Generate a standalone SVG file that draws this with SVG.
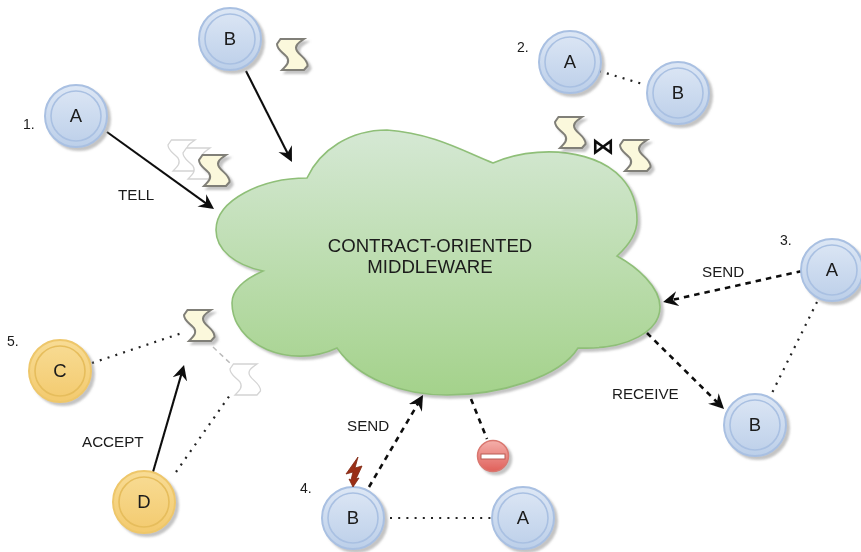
<svg xmlns="http://www.w3.org/2000/svg" width="861" height="552" viewBox="0 0 861 552">
<style>
text{font-family:"Liberation Sans",Arial,sans-serif;fill:#1a1a1a}
.lab{font-size:15.2px}
.num{font-size:14px}
.let{font-size:18.5px;text-anchor:middle}
.mid{font-size:18.6px;text-anchor:middle}
.out{fill:url(#blue);stroke:#a9c0e2;stroke-width:2}
.inn{fill:none;stroke:#a9c0e2;stroke-width:1.6}
.y .out{fill:url(#yel);stroke:#eec76b}
.y .inn{stroke:#e6bd5c}
.doc{fill:#fbf8dc;stroke:#807f78;stroke-width:2}
.ghost{fill:#fff;stroke:#d4d4d4;stroke-width:1.3}
#connectors line{fill:none;stroke:#111}
.solid{stroke-width:2.1}
.dash{stroke-width:2.6;stroke-dasharray:5.5 5}
#connectors .dot{stroke-width:2.2;stroke-dasharray:2 6.2;stroke:#222}
#connectors .gdash{stroke:#bbb;stroke-width:1.5;stroke-dasharray:5 4}
</style>
<defs>
<linearGradient id="blue" x1="0" y1="0" x2="0" y2="1"><stop offset="0" stop-color="#dde7f5"/><stop offset="1" stop-color="#bccfe9"/></linearGradient>
<linearGradient id="yel" x1="0" y1="0" x2="0" y2="1"><stop offset="0" stop-color="#f8dc95"/><stop offset="1" stop-color="#f3ca6e"/></linearGradient>
<linearGradient id="gr" x1="0" y1="0" x2="0" y2="1"><stop offset="0" stop-color="#d5e8d4"/><stop offset="1" stop-color="#a4d28b"/></linearGradient>
<linearGradient id="red" x1="0" y1="0" x2="0" y2="1"><stop offset="0" stop-color="#f4b0ab"/><stop offset="1" stop-color="#e0605a"/></linearGradient>
<filter id="sh" x="-15%" y="-15%" width="135%" height="135%"><feDropShadow dx="3" dy="3" stdDeviation="1" flood-color="#888" flood-opacity=".5"/></filter>
<filter id="soft" filterUnits="userSpaceOnUse" x="0" y="0" width="861" height="552"><feGaussianBlur stdDeviation="0.45"/></filter>
<marker id="ah" markerUnits="userSpaceOnUse" markerWidth="18" markerHeight="18" refX="12" refY="8" orient="auto"><path d="M15 8L0 0.5L5 8L0 15.5Z" fill="#111"/></marker>
<path id="tape" d="M3.5 1L27 1C21 5 17 8 20 13C23 18 31 21 30.5 28L27 32L5 32C10 27 13 24 10 19C6 14 0 12 0 6Z"/>
</defs>
<g filter="url(#soft)">
<g id="cloud">
<path d="M307 178C320 150 350 130 387 130C433 133 467 153 493 163C545 140 637 150 637 220C637 234 628 246 617 256C637 267 660 287 660 307C660 330 630 350 578 348C560 377 500 395 447 395C400 395 357 377 337 348C290 370 232 345 232 303C232 290 245 279 263 271C235 265 216 250 216 230C216 200 262 178 307 178Z" fill="url(#gr)" stroke="#8fbf78" stroke-width="1.6" filter="url(#sh)"/>
<text class="mid" x="430" y="252">CONTRACT-ORIENTED</text>
<text class="mid" x="430" y="273">MIDDLEWARE</text>
</g>
<g id="connectors">
<line class="solid" x1="107" y1="132" x2="211.6" y2="207.3" marker-end="url(#ah)"/>
<line class="solid" x1="246" y1="71" x2="290.6" y2="159.3" marker-end="url(#ah)"/>
<line class="dot" x1="599" y1="71" x2="646" y2="85"/>
<line class="dash" x1="802" y1="271" x2="666" y2="301.3" marker-end="url(#ah)"/>
<line class="dash" x1="647" y1="333" x2="721.9" y2="406.9" marker-end="url(#ah)"/>
<line class="dot" x1="817" y1="302" x2="772" y2="393"/>
<line class="dash" x1="369" y1="487" x2="421.5" y2="397.6" marker-end="url(#ah)"/>
<line class="dash" x1="471" y1="399" x2="487" y2="439"/>
<line class="dot" x1="390" y1="518" x2="493" y2="518"/>
<line class="dot" x1="92" y1="363" x2="182" y2="333"/>
<line class="solid" x1="153" y1="472" x2="183.2" y2="367.9" marker-end="url(#ah)"/>
<line class="dot" x1="176" y1="472" x2="230" y2="395"/>
<line class="gdash" x1="213" y1="347" x2="231" y2="364"/>
</g>
<g id="node-a1"><circle class="out" cx="76" cy="116" r="31" filter="url(#sh)"/><circle class="inn" cx="76" cy="116" r="25"/><text class="let" x="76" y="122">A</text></g>
<g id="node-b1"><circle class="out" cx="230" cy="39" r="31" filter="url(#sh)"/><circle class="inn" cx="230" cy="39" r="25"/><text class="let" x="230" y="45">B</text></g>
<g id="node-a2"><circle class="out" cx="570" cy="62" r="31" filter="url(#sh)"/><circle class="inn" cx="570" cy="62" r="25"/><text class="let" x="570" y="68">A</text></g>
<g id="node-b2"><circle class="out" cx="678" cy="93" r="31" filter="url(#sh)"/><circle class="inn" cx="678" cy="93" r="25"/><text class="let" x="678" y="99">B</text></g>
<g id="node-a3"><circle class="out" cx="832" cy="270" r="31" filter="url(#sh)"/><circle class="inn" cx="832" cy="270" r="25"/><text class="let" x="832" y="276">A</text></g>
<g id="node-b3"><circle class="out" cx="755" cy="425" r="31" filter="url(#sh)"/><circle class="inn" cx="755" cy="425" r="25"/><text class="let" x="755" y="431">B</text></g>
<g id="node-b4"><circle class="out" cx="353" cy="518" r="31" filter="url(#sh)"/><circle class="inn" cx="353" cy="518" r="25"/><text class="let" x="353" y="524">B</text></g>
<g id="node-a4"><circle class="out" cx="523" cy="518" r="31" filter="url(#sh)"/><circle class="inn" cx="523" cy="518" r="25"/><text class="let" x="523" y="524">A</text></g>
<g id="node-c" class="y"><circle class="out" cx="60" cy="371" r="31" filter="url(#sh)"/><circle class="inn" cx="60" cy="371" r="25"/><text class="let" x="60" y="377">C</text></g>
<g id="node-d" class="y"><circle class="out" cx="144" cy="502" r="31" filter="url(#sh)"/><circle class="inn" cx="144" cy="502" r="25"/><text class="let" x="144" y="508">D</text></g>
<g id="contracts">
<use href="#tape" class="ghost" x="168" y="139"/>
<use href="#tape" class="ghost" x="183" y="147"/>
<use href="#tape" class="doc" x="199" y="154" filter="url(#sh)"/>
<use href="#tape" class="doc" x="277" y="38" filter="url(#sh)"/>
<use href="#tape" class="doc" x="555" y="116" filter="url(#sh)"/>
<use href="#tape" class="doc" x="620" y="139" filter="url(#sh)"/>
<use href="#tape" class="doc" x="184" y="309" filter="url(#sh)"/>
<use href="#tape" class="ghost" x="230" y="363"/>
</g>
<g id="join"><text x="603" y="153.5" style="font-family:'DejaVu Sans',sans-serif;font-size:23px;font-weight:bold;text-anchor:middle;fill:#111">⋈</text></g>
<g id="stop"><circle cx="493" cy="456" r="15.5" fill="url(#red)" stroke="#d9776f" stroke-width="1.5" filter="url(#sh)"/><rect x="481" y="454" width="24" height="5" fill="#fff" stroke="#b85c55" stroke-width="1"/></g>
<g id="fault"><path d="M358 457L346 474L353 472L351 480L349 479L353 487L359 478L356 479L362 466L355 468Z" fill="#9a2f17" stroke="#7d2410" stroke-width="0.8"/></g>
<g id="labels">
<text class="num" x="23" y="129">1.</text>
<text class="num" x="517" y="52">2.</text>
<text class="num" x="780" y="245">3.</text>
<text class="num" x="300" y="493">4.</text>
<text class="num" x="7" y="346">5.</text>
<text class="lab" x="118" y="200">TELL</text>
<text class="lab" x="82" y="447">ACCEPT</text>
<text class="lab" x="347" y="431">SEND</text>
<text class="lab" x="702" y="277">SEND</text>
<text class="lab" x="612" y="399">RECEIVE</text>
</g>
</g>
</svg>
